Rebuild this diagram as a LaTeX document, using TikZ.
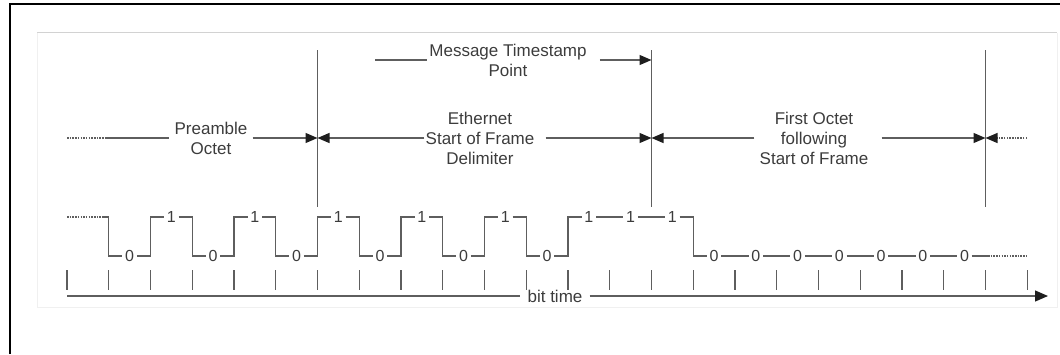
\documentclass[tikz,border=0pt]{standalone}
\usepackage{fontspec}
\setmainfont{Liberation Sans}
\usetikzlibrary{arrows.meta}
\definecolor{ln}{HTML}{5E5E5E}
\definecolor{tx}{HTML}{3C3C3C}
\definecolor{ah}{HTML}{1E1E1E}
\tikzset{
  wire/.style={draw=ln, line width=1.2pt},
  corner/.style={draw=ln, line width=1.2pt, line cap=rect},
  tickmk/.style={draw=ln, line width=1.4pt},
  lbl/.style={text=tx, font=\fontsize{17}{20}\selectfont, align=center, inner xsep=5pt, inner ysep=1pt},
  bitlbl/.style={text=tx, font=\fontsize{16}{18}\selectfont, inner xsep=2.5pt, inner ysep=1pt},
  tipR/.style={-{Triangle[length=12pt,width=10pt,color=ah]}},
  dots/.style={dash pattern=on 1.5pt off 1.2pt},
}
\begin{document}
\begin{tikzpicture}[x=1pt,y=-1pt]
\useasboundingbox (0,0) rectangle (1060,354);
% frames
\draw[black, line width=2.6pt] (10,354) -- (10,4) -- (1060,4);
\draw[gray!35, line width=0.8pt] (37,32.5) -- (1057,32.5);
\draw[gray!12, line width=0.8pt] (37,32.5) -- (37,307) -- (1057,307) -- (1057,32.5);

% ticks
\foreach \k in {0,...,23} {
  \pgfmathsetmacro\xt{67+\k*41.75}
  \draw[tickmk] (\xt,270) -- (\xt,290);
}

% axis
\coordinate (ax0) at (67,296);
\coordinate (ax1) at (1048,296);
\node[lbl, inner xsep=7pt] (bt) at (555,296) {bit time};
\draw[wire] (ax0) -- (bt.west);
\draw[wire,-{Triangle[length=13pt,width=11pt,color=ah]}] (bt.east) -- (ax1);

% waveform
\coordinate (w0) at (67,217);
\coordinate (w0s) at (104,217);
\coordinate (w1) at (108.75,217);
\draw[wire,dots] (w0) -- (w0s);
\draw[wire] (w0s) -- (w1);
\foreach \k/\b in {1/0,2/1,3/0,4/1,5/0,6/1,7/0,8/1,9/0,10/1,11/0,12/1,13/1,14/1,15/0,16/0,17/0,18/0,19/0,20/0,21/0} {
  \pgfmathsetmacro\xa{67+\k*41.75}
  \pgfmathsetmacro\xb{67+(\k+1)*41.75}
  \pgfmathsetmacro\xm{(\xa+\xb)/2}
  \pgfmathsetmacro\yy{\b==1 ? 217 : 256}
  \node[bitlbl] (bit\k) at (\xm,\yy) {\b};
  \draw[wire] (\xa,\yy) -- (bit\k.west);
  \draw[wire] (bit\k.east) -- (\xb,\yy);
}
\foreach \k in {1,...,12,15} {
  \pgfmathsetmacro\xt{67+\k*41.75}
  \draw[corner] (\xt,217) -- (\xt,256);
}
\coordinate (wEnd) at (1028,256);
\coordinate (wEs) at (988,256);
\draw[wire] (bit21.east) -- (wEs);
\draw[wire,dots] (wEs) -- (wEnd);

% boundaries
\coordinate (bAt) at (317.5,50);  \coordinate (bAb) at (317.5,207);
\coordinate (bBt) at (651.5,50);  \coordinate (bBb) at (651.5,207);
\coordinate (bCt) at (985.5,50);  \coordinate (bCb) at (985.5,207);
\draw[wire] (bAt) -- (bAb);
\draw[wire] (bBt) -- (bBb);
\draw[wire] (bCt) -- (bCb);
\coordinate (bA) at (317.5,138);
\coordinate (bB) at (651.5,138);
\coordinate (bC) at (985.5,138);
\coordinate (bM) at (651.5,60);

% arrow row
\coordinate (pL) at (67,138);
\coordinate (pS) at (106,138);
\node[lbl] (pre) at (211,138) {Preamble\\Octet};
\draw[wire,dots] (pL) -- (pS);
\draw[wire] (pS) -- (pre.west);
\draw[wire,tipR] (pre.east) -- (bA);

\node[lbl, inner xsep=1pt] (sfd) at (480,138) {Ethernet\\Start of Frame\\Delimiter};
\draw[wire,tipR] (sfd.west) -- (bA);
\draw[wire,tipR] ([xshift=10pt]sfd.east) -- (bB);

\node[lbl] (fo) at (814,138) {First Octet\\following\\Start of Frame};
\draw[wire,tipR] (fo.west) -- (bB);
\draw[wire,tipR] ([xshift=8pt]fo.east) -- (bC);

\coordinate (rS) at (1027,138);
\draw[wire,dots,tipR] (rS) -- (bC);

% timestamp
\coordinate (mL) at (375,60);
\node[lbl, inner xsep=2pt] (mts) at (508,60) {Message Timestamp\\Point};
\draw[wire] (mL) -- (mts.west);
\draw[wire,tipR] ([xshift=11pt]mts.east) -- (bM);
\end{tikzpicture}
\end{document}
